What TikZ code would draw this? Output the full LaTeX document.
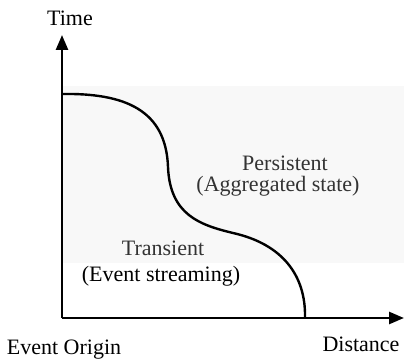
\documentclass[tikz,border=0pt]{standalone}
\usepackage{fontspec}
\setmainfont{Liberation Serif}
\usetikzlibrary{arrows.meta}
\definecolor{bgpatch}{HTML}{F8F8F8}
\definecolor{softtext}{HTML}{333333}
\begin{document}
\begin{tikzpicture}[x=1pt,y=-1pt,
  axis/.style={line width=2.5pt,-{Triangle[length=15pt,width=12pt]}},
  boundary/.style={line width=2.4pt},
  lbl/.style={inner sep=0pt,font=\fontsize{22}{24}\selectfont},
  soft/.style={lbl,text=softtext}]
\useasboundingbox (0,0) rectangle (404,363);
\fill[bgpatch] (61,86) rectangle (404,263);
\coordinate (O) at (62,318);
\coordinate (ytip) at (62,35);
\coordinate (xtip) at (404,318);
\draw[axis] (O) -- (ytip);
\draw[axis] (O) -- (xtip);
\coordinate (c0) at (62,94);
\coordinate (c1) at (168,167);
\coordinate (c2) at (233,233);
\coordinate (c3) at (305,318);
\draw[boundary] (c0) .. controls (125,93) and (166,110) .. (c1)
  .. controls (170,215) and (200,225) .. (c2)
  .. controls (282,244) and (306,275) .. (c3);
\node[lbl] (time) at (70,18) {Time};
\node[soft] (pers) at (285,163) {Persistent};
\node[soft] (agg) at (278,186) {(Aggregated state)};
\node[soft] (trans) at (163,248) {Transient};
\node[lbl] (stream) at (161,276) {(Event streaming)};
\node[lbl] (origin) at (64,350) {Event Origin};
\node[lbl] (dist) at (361,344) {Distance};
\end{tikzpicture}
\end{document}
